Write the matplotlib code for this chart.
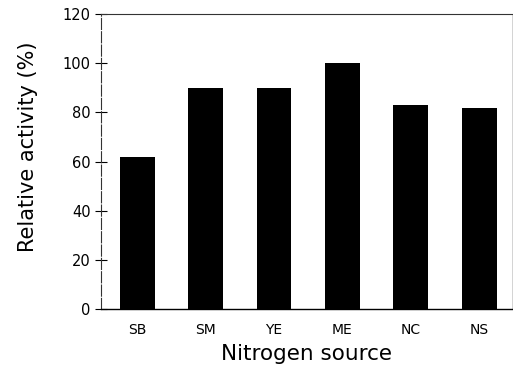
import numpy as np
import matplotlib
matplotlib.use("Agg")
import matplotlib.pyplot as plt

# data
sources = ["SB", "SM", "YE", "ME", "NC", "NS"]
activity = [62, 90, 90, 100, 83, 82]
yticks = [0, 20, 40, 60, 80, 100, 120]

plt.rcParams['font.family'] = ['DejaVu Sans']

fig = plt.figure(figsize=(5.13, 3.72), dpi=100)
ax = fig.add_axes([0.197, 0.169, 0.801, 0.793])

x = np.arange(len(sources))
ax.bar(x, activity, width=0.51, color="black")

ax.set_xlim(-0.53, 5.48)
ax.set_ylim(0, 120)
ax.set_yticks(yticks)
ax.set_xticks(x)
ax.set_xticklabels(sources, fontsize=10)
ax.tick_params(axis="y", direction="inout", length=9, width=0.8, labelsize=10.5, pad=3)
ax.tick_params(axis="x", length=0, pad=10)

# scanned-looking frame
ax.spines["left"].set_linestyle((0, (10, 2)))
ax.spines["left"].set_linewidth(0.8)
ax.spines["left"].set_color("#333333")
ax.spines["top"].set_linewidth(0.8)
ax.spines["top"].set_color("#333333")
ax.spines["bottom"].set_linewidth(1.0)
ax.spines["right"].set_color("#cccccc")
ax.spines["right"].set_linewidth(0.6)

ax.set_ylabel("Relative activity (%)", fontsize=15)
ax.yaxis.set_label_coords(-0.153, 0.55)
ax.set_xlabel("Nitrogen source", fontsize=15.5, labelpad=5)

fig.savefig("out.png", dpi=100)
